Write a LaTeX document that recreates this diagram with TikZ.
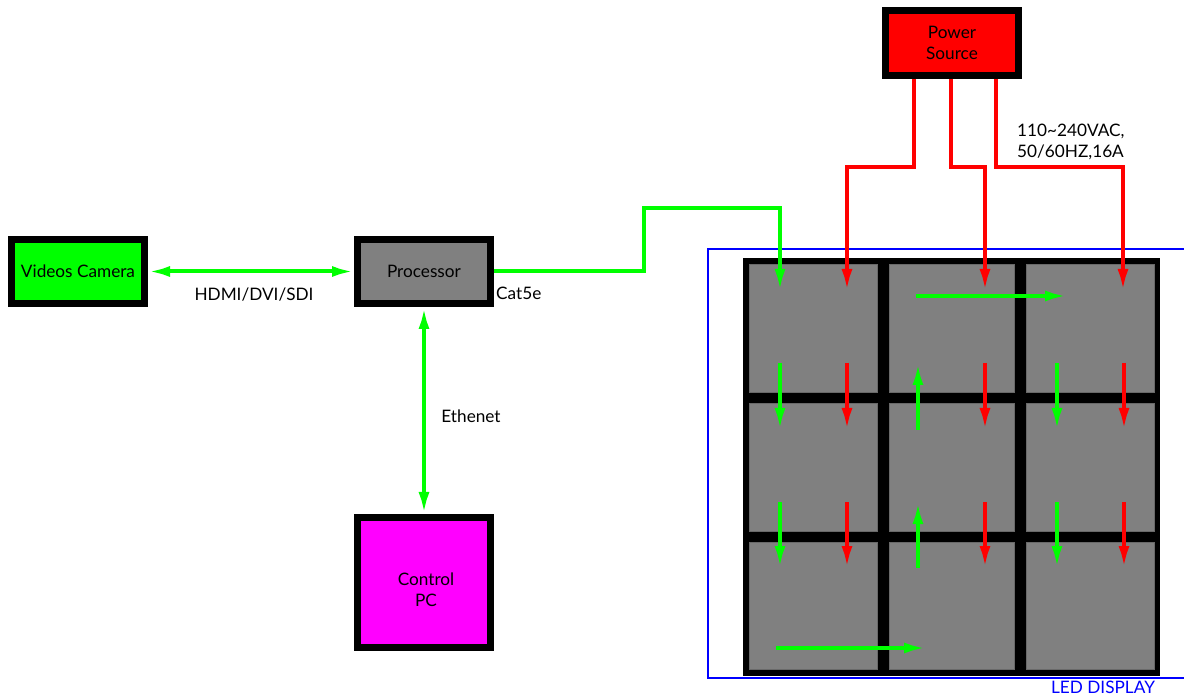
\documentclass[tikz,border=0pt]{standalone}
\usepackage{fontspec}
\setmainfont{Lato}
\usetikzlibrary{arrows.meta}
\definecolor{gr}{RGB}{0,255,0}
\definecolor{rd}{RGB}{255,0,0}
\definecolor{mg}{RGB}{255,0,255}
\definecolor{bl}{RGB}{0,0,255}
\definecolor{panel}{RGB}{128,128,128}
\begin{document}
\begin{tikzpicture}[x=1pt,y=-1pt,
  box/.style={draw=black,line width=7pt,minimum width=133pt,minimum height=64pt,inner sep=0pt,font=\fontsize{17.2}{21}\selectfont,align=center,text=black},
  lbl/.style={font=\fontsize{17.2}{21}\selectfont,text=black,inner sep=0pt},
  gline/.style={draw=gr,line width=4pt},
  rline/.style={draw=rd,line width=4pt},
  tip/.style={-{Latex[length=22pt,width=11pt]}},
  dtip/.style={{Latex[length=22pt,width=11pt]}-{Latex[length=22pt,width=11pt]}},
  pnl/.style={fill=panel,draw={rgb,255:red,105;green,105;blue,105},line width=0.8pt}
]
\useasboundingbox (0,0) rectangle (1184,700);
\fill[white] (0,0) rectangle (1184,700);

% boxes
\node[box,fill=gr] (cam) at (78,271.5) {Videos Camera};
\node[box,fill=panel] (proc) at (424,271.5) {Processor};
\node[box,fill=mg,minimum height=130pt] (pc) at (424,582.5) {};
\node[lbl,align=center] (pctext) at (426,589.5) {Control\\PC};
\node[box,fill=rd,minimum height=65pt] (pow) at (952,43) {Power\\Source};

% LED display frame
\draw[bl,line width=1.5pt] (708,249) rectangle (1200,678);
\node[lbl,text=bl] (led) at (1103,687) {LED DISPLAY};
\fill[black] (743,258) rectangle (1160,676);
\foreach \xa/\xb in {749/877,889/1014,1026/1154}{
  \foreach \ya/\yb in {264/392,403/531,542/669}{
    \draw[pnl] (\xa,\ya) rectangle (\xb,\yb);
  }
}

% connectors
\draw[gline,dtip] (cam.east) -- (proc.west);
\node[lbl] (hdmi) at (254,295) {HDMI/DVI/SDI};
\draw[gline,dtip] (proc.south) -- (pc.north);
\node[lbl] (eth) at (471,416) {Ethenet};
\node[lbl,anchor=west] (cat) at (496,293) {Cat5e};
\draw[gline,tip] (proc.east) -- (644,271.5) |- (780,208) -- (780,291);

% power lines
\draw[rline,tip] (pow.south) ++(-38,0) |- (847,167) -- (847,291);
\draw[rline,tip] (pow.south) ++(-1,0) |- (985,167) -- (985,291);
\draw[rline,tip] (pow.south) ++(44,0) |- (1123,167) -- (1123,291);
\node[lbl,anchor=north west,align=left] (vac) at (1017,124) {110\textasciitilde240VAC,\\50/60HZ,16A};

% arrows inside the display
\draw[gline,tip] (916,296) -- (1067,296);
\foreach \ya/\yb in {363/430,502/568}{
  \draw[gline,tip] (780,\ya) -- (780,\yb);
  \draw[rline,tip] (847,\ya) -- (847,\yb);
  \draw[gline,tip] (918,\yb) -- (918,\ya);
  \draw[rline,tip] (985,\ya) -- (985,\yb);
  \draw[gline,tip] (1057,\ya) -- (1057,\yb);
  \draw[rline,tip] (1124,\ya) -- (1124,\yb);
}
\draw[gline,tip] (776,648) -- (926,648);
\end{tikzpicture}
\end{document}
